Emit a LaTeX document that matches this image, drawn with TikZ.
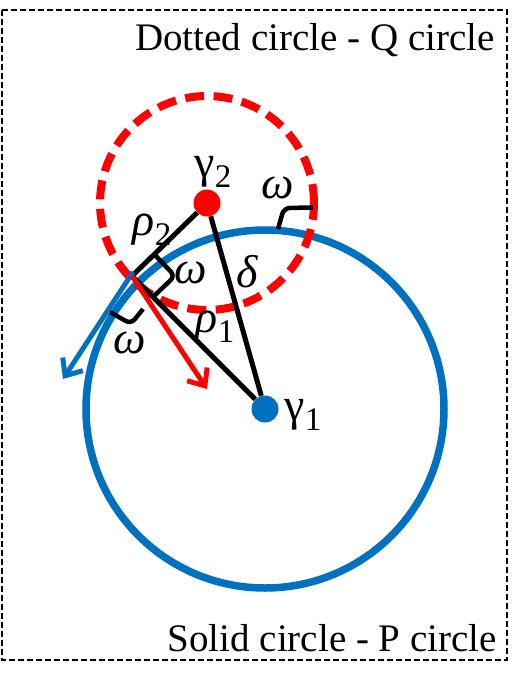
\documentclass[tikz,border=0pt]{standalone}
\usepackage{fontspec}
\setmainfont{Liberation Serif}
\newfontfamily\gkfont{Liberation Serif}
\usetikzlibrary{arrows.meta}
\definecolor{pblue}{HTML}{0070C0}
\definecolor{qred}{HTML}{FF0000}
\newcommand{\gsubx}[2]{#1\raisebox{-0.22em}{\fontsize{33}{33}\selectfont\upshape #2}}
\begin{document}
\begin{tikzpicture}[x=1pt,y=-1pt,
  lbl/.style={inner sep=0pt, font=\gkfont\itshape\fontsize{46}{48}\selectfont},
  ttl/.style={inner sep=0pt, font=\fontsize{39}{41}\selectfont, anchor=base east},
  tri/.style={line width=5pt, black},
  amark/.style={line width=4.5pt, black, rounded corners=6pt},
  dotnode/.style={circle, inner sep=0pt, minimum size=27pt},
  arr/.style={line width=5pt, -{Straight Barb[length=14pt,width=24pt]}}
]
\useasboundingbox (0,0) rectangle (529,686);
\draw[black, line width=2pt, dash pattern=on 6pt off 3pt] (2,9.5) rectangle (507,659.5);
\node[ttl] (qt) at (495,50) {Dotted circle - Q circle};
\node[ttl] (pt) at (497,651) {Solid circle - P circle};
\coordinate (c1) at (265,409);
\coordinate (c2) at (207,203);
\draw[pblue, line width=7.5pt] (c1) circle[radius=179pt];
\draw[qred, line width=8pt, dash pattern=on 19pt off 9.5pt] (c2) circle[radius=107pt];
\node[dotnode, fill=pblue] (g1) at (c1) {};
\node[dotnode, fill=qred] (g2) at (c2) {};
\coordinate (P) at (132,276);
\draw[tri] (g2) -- (P) -- (g1);
\draw[tri] (g2) -- (g1);
\coordinate (ts) at (133,272);
\coordinate (te) at (63,379);
\draw[arr, pblue] (ts) -- (te);
\coordinate (re) at (207,389);
\draw[arr, qred] (P) -- (re);
\draw[amark] (154,254) -- (175,276) -- (153,297);
\draw[amark] (110,312) -- (131,324) -- (143,309);
\draw[amark] (278,229) -- (284,208) -- (313,207.5);
\node[lbl] (w1) at (278,188) {ω};
\node[lbl] (w2) at (191,273) {ω};
\node[lbl] (w3) at (130,343) {ω};
\node[lbl] (r2) at (152,230) {\gsubx{ρ}{2}};
\node[lbl] (r1) at (215,327) {\gsubx{ρ}{1}};
\node[lbl] (dl) at (247,272) {δ};
\node[lbl, font=\gkfont\fontsize{46}{48}\selectfont] (gl2) at (213,172) {\gsubx{γ}{2}};
\node[lbl, font=\gkfont\fontsize{46}{48}\selectfont] (gl1) at (303,415) {\gsubx{γ}{1}};
\end{tikzpicture}
\end{document}
